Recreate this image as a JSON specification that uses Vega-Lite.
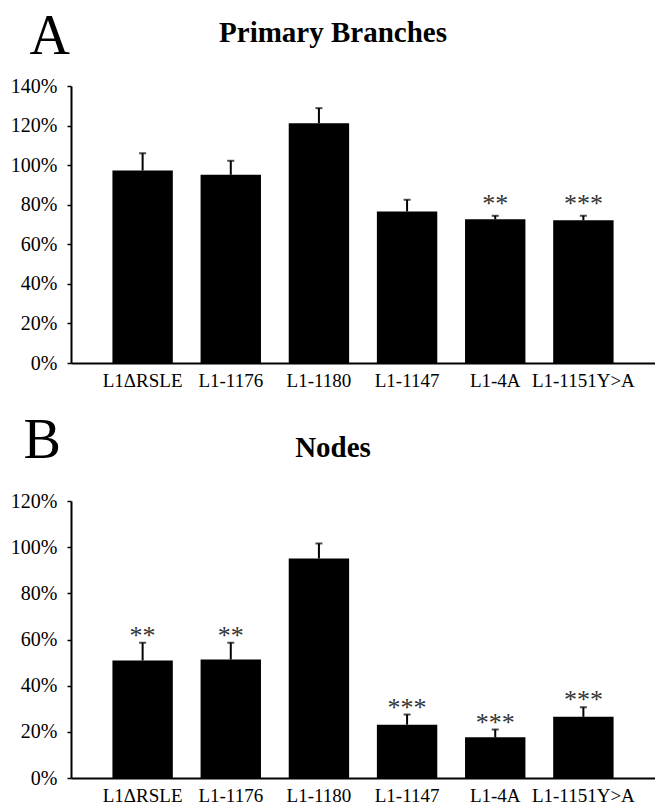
{
  "$schema": "https://vega.github.io/schema/vega-lite/v6.json",
  "padding": {"left": 10, "top": 8, "right": 0, "bottom": 0},
  "autosize": {"type": "pad"},
  "background": "white",
  "datasets": {
    "branches": [
      {"construct": "L1ΔRSLE", "value": 97.3, "err": 106.0, "sig": ""},
      {"construct": "L1-1176", "value": 95.1, "err": 102.2, "sig": ""},
      {"construct": "L1-1180", "value": 121.2, "err": 128.8, "sig": ""},
      {"construct": "L1-1147", "value": 76.6, "err": 82.5, "sig": ""},
      {"construct": "L1-4A", "value": 72.7, "err": 74.4, "sig": "**"},
      {"construct": "L1-1151Y>A", "value": 72.1, "err": 74.4, "sig": "***"}
    ],
    "nodes": [
      {"construct": "L1ΔRSLE", "value": 50.9, "err": 58.6, "sig": "**"},
      {"construct": "L1-1176", "value": 51.3, "err": 58.6, "sig": "**"},
      {"construct": "L1-1180", "value": 95.1, "err": 101.6, "sig": ""},
      {"construct": "L1-1147", "value": 23.1, "err": 27.5, "sig": "***"},
      {"construct": "L1-4A", "value": 17.6, "err": 21.0, "sig": "***"},
      {"construct": "L1-1151Y>A", "value": 26.5, "err": 30.6, "sig": "***"}
    ]
  },
  "config": {
    "view": {"stroke": null},
    "font": "Liberation Serif",
    "axis": {
      "grid": false,
      "domainColor": "black",
      "domainWidth": 2,
      "tickColor": "black",
      "labelColor": "black",
      "labelFont": "Liberation Serif",
      "titleFont": "Liberation Serif",
      "titleColor": "black",
      "labelOverlap": false
    },
    "axisX": {"ticks": false, "labelAngle": 0, "labelFontSize": 19, "labelPadding": 8},
    "axisY": {"tickSize": 4, "tickWidth": 1.5, "labelFontSize": 20, "labelPadding": 10, "labelOverlap": false},
    "title": {"font": "Liberation Serif", "fontSize": 29, "fontWeight": "bold", "color": "black", "anchor": "middle", "frame": "group", "baseline": "alphabetic", "dx": -30}
  },
  "spacing": 22,
  "vconcat": [
    {
      "width": 584,
      "height": 277,
      "title": {"text": "Primary Branches", "offset": -40},
      "data": {"name": "branches"},
      "encoding": {
        "x": {"field": "construct", "type": "nominal", "sort": null,
              "scale": {"paddingInner": 0.315, "paddingOuter": 0.47},
              "axis": {"title": null}}
      },
      "layer": [
        {
          "mark": {"type": "bar", "color": "black"},
          "encoding": {
            "y": {"field": "value", "type": "quantitative",
                  "scale": {"domain": [0, 140]},
                  "axis": {"values": [0, 20, 40, 60, 80, 100, 120, 140], "labelExpr": "datum.value + '%'",
                           "labelOverlap": false,
                           "title": "A", "titleFontSize": 56, "titleFontWeight": "normal", "titleAngle": 0,
                           "titleAlign": "left", "titleBaseline": "alphabetic", "titleX": -42, "titleY": -33}}
          }
        },
        {
          "mark": {"type": "rule", "color": "black", "strokeWidth": 2},
          "encoding": {"y": {"field": "value", "type": "quantitative",
                  "axis": {"values": [0, 20, 40, 60, 80, 100, 120, 140], "labelExpr": "datum.value + '%'",
                           "labelOverlap": false,
                           "title": "A", "titleFontSize": 56, "titleFontWeight": "normal", "titleAngle": 0,
                           "titleAlign": "left", "titleBaseline": "alphabetic", "titleX": -42, "titleY": -33}},
                       "y2": {"field": "err"}}
        },
        {
          "mark": {"type": "tick", "color": "black", "size": 7, "thickness": 2},
          "encoding": {"y": {"field": "err", "type": "quantitative",
                  "axis": {"values": [0, 20, 40, 60, 80, 100, 120, 140], "labelExpr": "datum.value + '%'",
                           "labelOverlap": false,
                           "title": "A", "titleFontSize": 56, "titleFontWeight": "normal", "titleAngle": 0,
                           "titleAlign": "left", "titleBaseline": "alphabetic", "titleX": -42, "titleY": -33}}}
        },
        {
          "mark": {"type": "text", "color": "#333333", "fontSize": 26, "baseline": "alphabetic", "dy": -4},
          "encoding": {"y": {"field": "err", "type": "quantitative",
                  "axis": {"values": [0, 20, 40, 60, 80, 100, 120, 140], "labelExpr": "datum.value + '%'",
                           "labelOverlap": false,
                           "title": "A", "titleFontSize": 56, "titleFontWeight": "normal", "titleAngle": 0,
                           "titleAlign": "left", "titleBaseline": "alphabetic", "titleX": -42, "titleY": -33}},
                       "text": {"field": "sig"}}
        }
      ]
    },
    {
      "width": 584,
      "height": 277,
      "title": {"text": "Nodes", "offset": -51},
      "data": {"name": "nodes"},
      "encoding": {
        "x": {"field": "construct", "type": "nominal", "sort": null,
              "scale": {"paddingInner": 0.315, "paddingOuter": 0.47},
              "axis": {"title": null}}
      },
      "layer": [
        {
          "mark": {"type": "bar", "color": "black"},
          "encoding": {
            "y": {"field": "value", "type": "quantitative",
                  "scale": {"domain": [0, 120]},
                  "axis": {"values": [0, 20, 40, 60, 80, 100, 120], "labelExpr": "datum.value + '%'",
                           "labelOverlap": false,
                           "title": "B", "titleFontSize": 56, "titleFontWeight": "normal", "titleAngle": 0,
                           "titleAlign": "left", "titleBaseline": "alphabetic", "titleX": -48, "titleY": -44}}
          }
        },
        {
          "mark": {"type": "rule", "color": "black", "strokeWidth": 2},
          "encoding": {"y": {"field": "value", "type": "quantitative",
                  "axis": {"values": [0, 20, 40, 60, 80, 100, 120], "labelExpr": "datum.value + '%'",
                           "labelOverlap": false,
                           "title": "B", "titleFontSize": 56, "titleFontWeight": "normal", "titleAngle": 0,
                           "titleAlign": "left", "titleBaseline": "alphabetic", "titleX": -48, "titleY": -44}},
                       "y2": {"field": "err"}}
        },
        {
          "mark": {"type": "tick", "color": "black", "size": 7, "thickness": 2},
          "encoding": {"y": {"field": "err", "type": "quantitative",
                  "axis": {"values": [0, 20, 40, 60, 80, 100, 120], "labelExpr": "datum.value + '%'",
                           "labelOverlap": false,
                           "title": "B", "titleFontSize": 56, "titleFontWeight": "normal", "titleAngle": 0,
                           "titleAlign": "left", "titleBaseline": "alphabetic", "titleX": -48, "titleY": -44}}}
        },
        {
          "mark": {"type": "text", "color": "#333333", "fontSize": 26, "baseline": "alphabetic", "dy": 1},
          "encoding": {"y": {"field": "err", "type": "quantitative",
                  "axis": {"values": [0, 20, 40, 60, 80, 100, 120], "labelExpr": "datum.value + '%'",
                           "labelOverlap": false,
                           "title": "B", "titleFontSize": 56, "titleFontWeight": "normal", "titleAngle": 0,
                           "titleAlign": "left", "titleBaseline": "alphabetic", "titleX": -48, "titleY": -44}},
                       "text": {"field": "sig"}}
        }
      ]
    }
  ]
}
